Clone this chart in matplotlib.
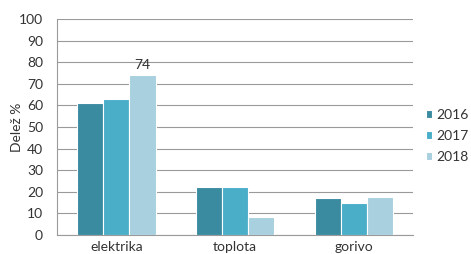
import matplotlib
matplotlib.use("Agg")
from matplotlib import pyplot as plt
import numpy as np

categories = ["elektrika", "toplota", "gorivo"]
years = ["2016", "2017", "2018"]
v2016 = [61, 22, 17]
v2017 = [63, 22, 15]
v2018 = [74, 8.5, 17.5]
colors = ["#3a8aa0", "#4aaec8", "#a9d0de"]

plt.rcParams["font.family"] = ["Lato", "DejaVu Sans"]
fig = plt.figure(figsize=(4.71, 2.54), dpi=100)
ax = fig.add_axes([0.121, 0.075, 0.756, 0.85])

x = np.arange(len(categories))
w = 0.22
series = [v2016, v2017, v2018]
for i, vals in enumerate(series):
    ax.bar(x + (i - 1) * w, vals, w, color=colors[i], edgecolor="white",
           linewidth=0.8, label=years[i], zorder=3)

ax.text(x[0] + w, v2018[0] + 2, "74", ha="center", va="bottom",
        fontsize=10, color="#333333")

ax.set_xlim(-0.5, 2.5)
ax.set_ylim(0, 100)
ax.set_yticks(range(0, 101, 10))
ax.set_xticks(x)
ax.set_xticklabels(categories)
ax.yaxis.grid(True, color="#9a9a9a", linewidth=0.8, zorder=0)
ax.tick_params(axis="both", length=0, labelsize=10, colors="#333333", pad=4)
ax.tick_params(axis="y", pad=10)
for s in ["top", "right"]:
    ax.spines[s].set_visible(False)
ax.spines["left"].set_color("#9a9a9a")
ax.spines["bottom"].set_color("#9a9a9a")
ax.set_ylabel("Delež %", fontsize=10, color="#333333")
ax.yaxis.set_label_coords(-0.095, 0.5)

ax.legend(loc="center left", bbox_to_anchor=(1.035, 0.46), frameon=False,
          fontsize=10, handlelength=0.5, handleheight=0.5, handletextpad=0.3,
          labelspacing=0.65, labelcolor="#333333", borderpad=0,
          borderaxespad=0)

fig.savefig("out.png", dpi=100)
